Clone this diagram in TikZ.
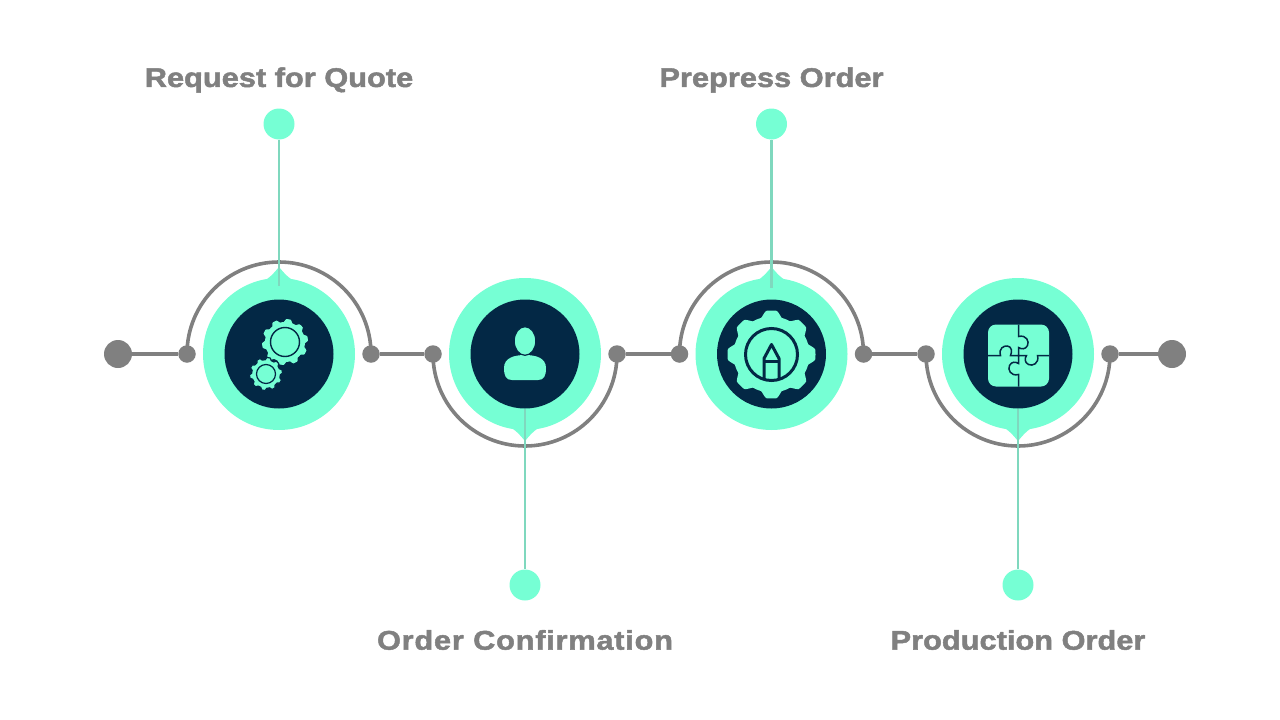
\documentclass[tikz,border=0pt]{standalone}
\usepackage{fontspec}
\newfontfamily\titlefont[FakeStretch=1.14,FakeBold=1.8]{Liberation Sans Bold}
\usetikzlibrary{positioning,backgrounds,calc}

\definecolor{mint}{HTML}{76FFD4}
\definecolor{leader}{HTML}{7FD8BE}
\definecolor{navy}{HTML}{032845}
\definecolor{wire}{HTML}{808080}

% cog outline, radius #1 with teeth of height #2, #3 teeth
\newcommand{\cogpath}[3]{plot[domain=0:360,samples=240,smooth]
  (\x:{#1-#2+#2*max(0,min(1,0.5+0.9*sin(#3*\x)))}) -- cycle}

\begin{document}
\begin{tikzpicture}[
  x=1pt, y=1pt, on grid,
  hub/.style={circle, fill=mint, minimum size=152pt, inner sep=0pt},
  core/.style={circle, fill=navy, minimum size=109pt, inner sep=0pt},
  joint/.style={circle, fill=wire, minimum size=17.5pt, inner sep=0pt},
  terminal/.style={circle, fill=wire, minimum size=28pt, inner sep=0pt},
  pin/.style={circle, fill=mint, minimum size=31pt, inner sep=0pt},
  title/.style={font=\titlefont\fontsize{27}{32}\selectfont, text=wire, inner sep=0pt},
  arr/.style={line width=3.6pt, draw=wire},
  lead/.style={line width=2.2pt, draw=leader},
  drop/.pic={\fill[mint] (-20,70) .. controls (-10,75) and (-5,81) .. (0,87)
     .. controls (5,81) and (10,75) .. (20,70) -- cycle;},
]
\useasboundingbox (0,0) rectangle (1280,-720);

% ---------------------------------------------------------------- hubs
\node[hub] (rfq) at (279,-354) {};
\node[hub, right=246pt of rfq] (confirm) {};
\node[hub, right=246.5pt of confirm] (prepress) {};
\node[hub, right=246.5pt of prepress] (production) {};
\node[core] (rfqcore) at (rfq) {};
\node[core] (confirmcore) at (confirm) {};
\node[core] (prepresscore) at (prepress) {};
\node[core] (productioncore) at (production) {};

% ---------------------------------------------------------------- joints
\node[joint, left=92pt of rfq] (a1) {};
\node[joint, right=92pt of rfq] (a2) {};
\node[joint, left=92pt of confirm] (b1) {};
\node[joint, right=92pt of confirm] (b2) {};
\node[joint, left=92pt of prepress] (c1) {};
\node[joint, right=92pt of prepress] (c2) {};
\node[joint, left=92pt of production] (d1) {};
\node[joint, right=92pt of production] (d2) {};
\node[terminal, left=69pt of a1] (start) {};
\node[terminal, right=62pt of d2] (stop) {};

% ---------------------------------------------------------------- pins and titles
\node[pin, above=230pt of rfq] (rfqpin) {};
\node[pin, below=231pt of confirm] (confirmpin) {};
\node[pin, above=230pt of prepress] (prepresspin) {};
\node[pin, below=231pt of production] (productionpin) {};
\node[title, above=44pt of rfqpin] (rfqtitle) {Request for Quote};
\node[title, below=55pt of confirmpin] (confirmtitle) {\addfontfeature{LetterSpace=2.8}Order Confirmation};
\node[title, above=44pt of prepresspin] (prepresstitle) {Prepress Order};
\node[title, below=55pt of productionpin] (productiontitle) {Production Order};

\begin{scope}[on background layer]
  \draw[arr] (a1.center) arc[start angle=180, end angle=0, radius=92];
  \draw[arr] (b1.center) arc[start angle=180, end angle=360, radius=92];
  \draw[arr] (c1.center) arc[start angle=180, end angle=0, radius=92];
  \draw[arr] (d1.center) arc[start angle=180, end angle=360, radius=92];
\end{scope}

\draw[arr] (start) -- (a1);
\draw[arr] (a2) -- (b1);
\draw[arr] (b2) -- (c1);
\draw[arr] (c2) -- (d1);
\draw[arr] (d2) -- (stop);

% the little points on the hubs, then the leaders over them
\pic at (rfq) {drop};
\pic[yscale=-1] at (confirm) {drop};
\pic at (prepress) {drop};
\pic[yscale=-1] at (production) {drop};
\coordinate[above=68pt of rfq] (rfqfoot);
\coordinate[above=66pt of prepress] (prepressfoot);
\draw[lead] (rfqpin) -- (rfqfoot);
\draw[lead] (confirmcore) -- (confirmpin);
\draw[lead] (prepresspin) -- (prepressfoot);
\draw[lead] (productioncore) -- (productionpin);

% ---------------------------------------------------------------- gears icon
\begin{scope}[shift={(285,-342)}]
  \fill[mint] \cogpath{23}{3}{10};
  \draw[navy, line width=1.4pt] (0,0) circle (14.5);
\end{scope}
\begin{scope}[shift={(266,-374)}]
  \fill[mint, draw=navy, line width=1.2pt] \cogpath{16.5}{2.2}{10};
  \draw[navy, line width=1.2pt] (0,0) circle (9.5);
\end{scope}

% ---------------------------------------------------------------- person icon
\fill[mint] (504,-368) .. controls (504,-358) and (514,-355) .. (525,-355)
  .. controls (536,-355) and (546,-358) .. (546,-368)
  .. controls (546,-376) and (544,-380) .. (538,-380) -- (512,-380)
  .. controls (506,-380) and (504,-376) .. (504,-368) -- cycle;
\fill[mint, draw=navy, line width=1.2pt] (525,-341) ellipse (10.8 and 14.3);

% ---------------------------------------------------------------- pencil gear icon
\begin{scope}[shift={(771.5,-354.5)}]
  \fill[mint, rotate=-11.25] \cogpath{44}{6}{8};
  \draw[navy, line width=3pt] (0,0) circle (26);
  \draw[navy, line width=3pt, line join=round] (-7.5,-25) -- (-7.5,-4) -- (0,10) -- (7.5,-4) -- (7.5,-25);
  \draw[navy, line width=2.6pt] (-7.5,-7) -- (7.5,-7);
\end{scope}

% ---------------------------------------------------------------- puzzle icon
\begin{scope}[shift={(1018.5,-355.5)}]
  \fill[mint, rounded corners=8pt] (-30.5,-31) rectangle (30.5,31);
  \draw[navy, line width=1.5pt] (0,31) -- (0,19)
    .. controls (8,21) and (11,14) .. (9,10) .. controls (7,6) and (3,6) .. (0,8) -- (0,0)
    (-30.5,0) -- (-18,0) .. controls (-20,7) and (-15,10) .. (-11,9.5)
    .. controls (-7,9) and (-6,4) .. (-8,0) -- (0,0)
    (30.5,0) -- (19,0) .. controls (21,-8) and (14,-11) .. (10,-9)
    .. controls (6,-7) and (6,-3) .. (8,0) -- (0,0)
    (0,-31) -- (0,-19) .. controls (-8,-21) and (-11,-14) .. (-9,-10)
    .. controls (-7,-6) and (-3,-6) .. (0,-8) -- (0,0);
\end{scope}
\end{tikzpicture}
\end{document}
